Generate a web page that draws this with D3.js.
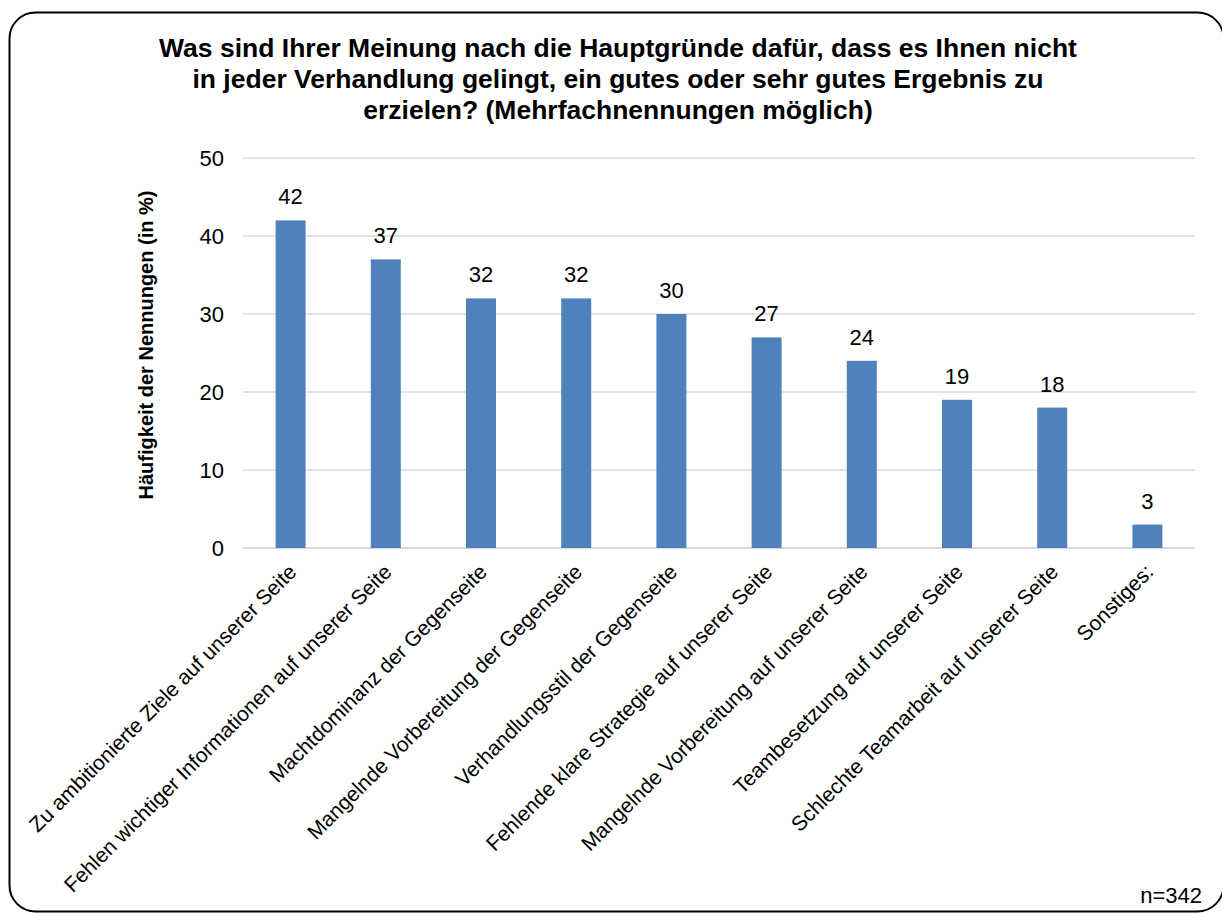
<!DOCTYPE html>
<html>
<head>
<meta charset="utf-8">
<script src="https://cdn.jsdelivr.net/npm/d3@7"></script>
<style>
    body { margin: 0; background: #fff; }
    svg { display: block; font-family: 'Liberation Sans', Arial, sans-serif; }
</style>
</head>
<body>
<svg id="chart" width="1222" height="913"></svg>
<script>
const categories = [
    'Zu ambitionierte Ziele auf unserer Seite',
    'Fehlen wichtiger Informationen auf unserer Seite',
    'Machtdominanz der Gegenseite',
    'Mangelnde Vorbereitung der Gegenseite',
    'Verhandlungsstil der Gegenseite',
    'Fehlende klare Strategie auf unserer Seite',
    'Mangelnde Vorbereitung auf unserer Seite',
    'Teambesetzung auf unserer Seite',
    'Schlechte Teamarbeit auf unserer Seite',
    'Sonstiges:'
];
const values = [42, 37, 32, 32, 30, 27, 24, 19, 18, 3];
const yTicks = [0, 10, 20, 30, 40, 50];
const titleLines = [
    'Was sind Ihrer Meinung nach die Hauptgründe dafür, dass es Ihnen nicht',
    'in jeder Verhandlung gelingt, ein gutes oder sehr gutes Ergebnis zu',
    'erzielen? (Mehrfachnennungen möglich)'
];
const yTitle = 'Häufigkeit der Nennungen (in %)';
const footnote = 'n=342';

const svg = d3.select('#chart');
const margin = { top: 158, right: 27, bottom: 365, left: 243 };
const width = 1222, height = 913;
const FONT = "'Liberation Sans', Arial, sans-serif";

// frame (right and bottom edges sit at the picture border)
svg.append('rect')
    .attr('x', 9.5).attr('y', 12.5)
    .attr('width', 1214).attr('height', 899)
    .attr('rx', 26).attr('ry', 26)
    .attr('fill', '#fff')
    .attr('stroke', '#000')
    .attr('stroke-width', 2);

const x = d3.scaleBand()
    .domain(categories)
    .range([margin.left, width - margin.right])
    .paddingInner(0.685)
    .paddingOuter(0.3425);

const y = d3.scaleLinear()
    .domain([0, 50])
    .range([height - margin.bottom, margin.top]);

// gridlines
svg.append('g')
    .selectAll('line')
    .data(yTicks)
    .join('line')
    .attr('x1', margin.left)
    .attr('x2', width - margin.right)
    .attr('y1', (d) => y(d))
    .attr('y2', (d) => y(d))
    .attr('stroke', '#d9d9d9')
    .attr('stroke-width', (d) => d === 0 ? 2 : 1.3);

// y axis labels
const yAxis = d3.axisLeft(y).tickValues(yTicks).tickSize(0).tickPadding(19);
svg.append('g')
    .attr('transform', `translate(${margin.left},0)`)
    .call(yAxis)
    .call((g) => g.select('.domain').remove())
    .selectAll('text')
    .attr('font-size', 22)
    .attr('font-family', FONT)
    .attr('fill', '#000');

// bars
svg.append('g')
    .selectAll('rect')
    .data(values)
    .join('rect')
    .attr('x', (d, i) => x(categories[i]))
    .attr('y', (d) => y(d))
    .attr('width', x.bandwidth())
    .attr('height', (d) => y(0) - y(d))
    .attr('fill', '#4f81bd');

// value labels
svg.append('g')
    .selectAll('text')
    .data(values)
    .join('text')
    .attr('x', (d, i) => x(categories[i]) + x.bandwidth() / 2)
    .attr('y', (d) => y(d) - 16)
    .attr('text-anchor', 'middle')
    .attr('font-size', 22)
    .text((d) => d);

// category labels, rotated
svg.append('g')
    .selectAll('text')
    .data(categories)
    .join('text')
    .attr('transform', (d) => `translate(${x(d) + x.bandwidth() / 2 + 2},${y(0) + 20}) rotate(-45)`)
    .attr('text-anchor', 'end')
    .attr('dy', '0.35em')
    .attr('font-size', 21)
    .text((d) => d);

// title
svg.append('text')
    .attr('x', 618)
    .attr('y', 57)
    .attr('text-anchor', 'middle')
    .attr('font-size', 26.5)
    .attr('font-weight', 'bold')
    .selectAll('tspan')
    .data(titleLines)
    .join('tspan')
    .attr('x', 618)
    .attr('dy', (d, i) => i === 0 ? 0 : 31)
    .text((d) => d);

// y axis title
svg.append('text')
    .attr('transform', 'translate(153,345) rotate(-90)')
    .attr('text-anchor', 'middle')
    .attr('font-size', 20)
    .attr('font-weight', 'bold')
    .text(yTitle);

// footnote
svg.append('text')
    .attr('x', 1202)
    .attr('y', 903)
    .attr('text-anchor', 'end')
    .attr('font-size', 22)
    .text(footnote);
</script>
</body>
</html>
